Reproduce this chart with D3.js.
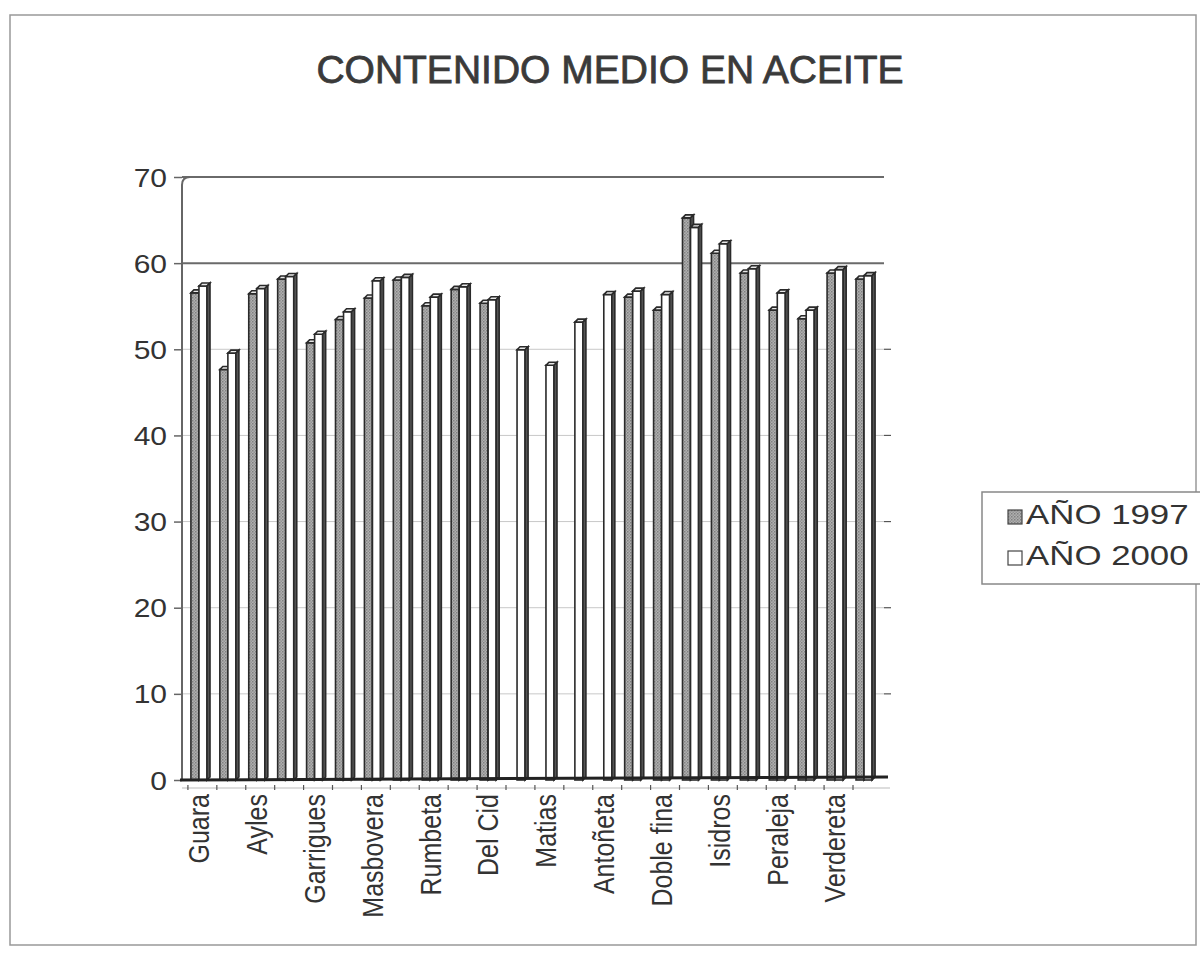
<!DOCTYPE html>
<html>
<head>
<meta charset="utf-8">
<script src="https://cdn.jsdelivr.net/npm/d3@7"></script>
<style>
  body { margin: 0; background: #fff; }
  text { font-family: "Liberation Sans", Arial, sans-serif; fill: #333; }
</style>
</head>
<body>
<div id="chart"></div>
<script>
// Chart data
const tickLabels = ["Guara", "", "Ayles", "", "Garrigues", "", "Masbovera", "", "Rumbeta", "",
  "Del Cid", "", "Matias", "", "Antoñeta", "", "Doble fina", "", "Isidros", "", "Peraleja", "", "Verdereta", ""];
const seriesNames = ["AÑO 1997", "AÑO 2000"];
const values1997 = [56.9, 48.0, 56.8, 58.5, 51.1, 53.8, 56.3, 58.4, 55.4, 57.3, 55.7,
  null, null, null, null, 56.4, 54.9, 65.6, 61.5, 59.2, 54.9, 53.9, 59.2, 58.5];
const values2000 = [57.7, 49.9, 57.4, 58.8, 52.1, 54.7, 58.3, 58.7, 56.4, 57.6, 56.1,
  50.3, 48.5, 53.5, 56.7, 57.1, 56.7, 64.5, 62.6, 59.7, 56.9, 54.9, 59.6, 58.9];
const yTicks = [0, 10, 20, 30, 40, 50, 60, 70];

// Chart params
const svgWidth = 1200;
const svgHeight = 973;
const dx = 3, dy = 3; // fake 3D depth of each column

const svg = d3.select("#chart")
  .append("svg")
  .attr("width", svgWidth)
  .attr("height", svgHeight);

// hatched grey for the 1997 columns
const defs = svg.append("defs");
const pat = defs.append("pattern")
  .attr("id", "grey")
  .attr("width", 3).attr("height", 3)
  .attr("patternUnits", "userSpaceOnUse");
pat.append("rect").attr("width", 3).attr("height", 3).attr("fill", "#b0b0b0");
pat.append("rect").attr("width", 1.5).attr("height", 1.5).attr("fill", "#808080");
pat.append("rect").attr("x", 1.5).attr("y", 1.5).attr("width", 1.5).attr("height", 1.5).attr("fill", "#939393");

// outer frame of the scanned chart
svg.append("rect")
  .attr("x", 10).attr("y", 15)
  .attr("width", 1186).attr("height", 930)
  .attr("fill", "none")
  .attr("stroke", "#999")
  .attr("stroke-width", 1.5);

// scales
const x0 = d3.scaleBand()
  .domain(d3.range(tickLabels.length))
  .range([186, 880])
  .paddingInner(0.34)
  .paddingOuter(0.17);

const x1 = d3.scaleBand()
  .domain(seriesNames)
  .range([0, x0.bandwidth() - dx]);

const y = d3.scaleLinear()
  .domain([0, 70])
  .range([780, 177]);

const axisX = 182;
const wallRight = 884;

// gridlines on the back wall
svg.append("g").selectAll("line")
  .data(yTicks.filter(t => t > 0))
  .enter()
  .append("line")
  .attr("x1", axisX)
  .attr("x2", wallRight)
  .attr("y1", d => y(d))
  .attr("y2", d => y(d))
  .attr("stroke", d => d >= 60 ? "#6a6a6a" : "#c8c8c8")
  .attr("stroke-width", d => d >= 60 ? 2 : 1);

// small marks on the right edge of the wall
svg.append("g").selectAll("line")
  .data(yTicks.filter(t => t > 0 && t < 60))
  .enter()
  .append("line")
  .attr("x1", wallRight)
  .attr("x2", wallRight + 7)
  .attr("y1", d => y(d))
  .attr("y2", d => y(d))
  .attr("stroke", "#555")
  .attr("stroke-width", 1.2);

// y axis
const leftAxis = d3.axisLeft(y).tickValues(yTicks).tickSize(8).tickPadding(0);
const yAxis = svg.append("g")
  .attr("transform", `translate(${axisX},0)`)
  .call(leftAxis);
yAxis.select(".domain").remove();
yAxis.selectAll(".tick line").attr("stroke", "#666").attr("stroke-width", 1.5);
yAxis.selectAll(".tick text")
  .attr("x", 0)
  .attr("dy", "0.36em")
  .attr("transform", "translate(-15,0) scale(1.2,1)")
  .style("font-size", "25px")
  .style("fill", "#333");

// left wall edge with rounded corner into the top of the wall
svg.append("path")
  .attr("d", `M${axisX},${y(0)} L${axisX},${y(70) + 8} Q${axisX},${y(70)} ${axisX + 8},${y(70)}`)
  .attr("fill", "none")
  .attr("stroke", "#666")
  .attr("stroke-width", 2);

// columns
const bars = [];
tickLabels.forEach((lab, i) => {
  [values1997[i], values2000[i]].forEach((v, k) => {
    if (v !== null) bars.push({ i: i, s: seriesNames[k], v: v });
  });
});

const fw = x1.bandwidth();
const base = y(0);
const barG = svg.append("g").selectAll("g")
  .data(bars)
  .enter()
  .append("g");

barG.append("rect")
  .attr("x", d => x0(d.i) + x1(d.s))
  .attr("y", d => y(d.v) + dy)
  .attr("width", fw)
  .attr("height", d => base - y(d.v) - dy)
  .attr("fill", d => d.s === seriesNames[0] ? "url(#grey)" : "#fff")
  .attr("stroke", "#2a2a2a")
  .attr("stroke-width", 1.6);

barG.append("path")
  .attr("d", d => {
    const bx = x0(d.i) + x1(d.s), t = y(d.v);
    return `M${bx},${t + dy} L${bx + dx},${t} L${bx + fw + dx},${t} L${bx + fw},${t + dy} Z`;
  })
  .attr("fill", "#e8e8e8")
  .attr("stroke", "#2a2a2a")
  .attr("stroke-width", 1.6);

barG.append("path")
  .attr("d", d => {
    const bx = x0(d.i) + x1(d.s) + fw, t = y(d.v);
    return `M${bx},${t + dy} L${bx + dx},${t} L${bx + dx},${base - dy} L${bx},${base} Z`;
  })
  .attr("fill", "#555")
  .attr("stroke", "#2a2a2a")
  .attr("stroke-width", 1.6);

// floor line
svg.append("line")
  .attr("x1", axisX - 2)
  .attr("x2", wallRight + 4)
  .attr("y1", base)
  .attr("y2", base - 3)
  .attr("stroke", "#222")
  .attr("stroke-width", 3);

// front edge of the floor with ticks between categories
svg.append("line")
  .attr("x1", axisX)
  .attr("x2", wallRight + 6)
  .attr("y1", base + 8)
  .attr("y2", base + 8)
  .attr("stroke", "#bbb")
  .attr("stroke-width", 1);

svg.append("g").selectAll("line")
  .data(d3.range(tickLabels.length))
  .enter()
  .append("line")
  .attr("x1", d => x0(d) - 3)
  .attr("x2", d => x0(d) - 3)
  .attr("y1", base + 5)
  .attr("y2", base + 10)
  .attr("stroke", "#555")
  .attr("stroke-width", 1.2);

// category labels, rotated
svg.append("g").selectAll("text")
  .data(d3.range(tickLabels.length).filter(i => tickLabels[i] !== ""))
  .enter()
  .append("text")
  .attr("transform", d => `translate(${x0(d) + x0.bandwidth() / 2 - 2},${base + 14}) scale(1.2,1) rotate(-90)`)
  .attr("dy", "0.36em")
  .attr("text-anchor", "end")
  .style("font-size", "25px")
  .text(d => tickLabels[d]);

// title
svg.append("text")
  .attr("x", 610)
  .attr("y", 83)
  .attr("text-anchor", "middle")
  .style("font-size", "39px")
  .style("fill", "#3a3a3a")
  .style("stroke", "#3a3a3a")
  .style("stroke-width", 0.8)
  .text("CONTENIDO MEDIO EN ACEITE");

// legend
const legend = svg.append("g");
legend.append("rect")
  .attr("x", 982).attr("y", 492)
  .attr("width", 240).attr("height", 92)
  .attr("fill", "#fff")
  .attr("stroke", "#888")
  .attr("stroke-width", 1.5);

seriesNames.forEach((name, k) => {
  const ly = 524 + k * 41;
  legend.append("rect")
    .attr("x", 1008).attr("y", ly - 14)
    .attr("width", 14).attr("height", 14)
    .attr("fill", k === 0 ? "url(#grey)" : "#fff")
    .attr("stroke", "#444")
    .attr("stroke-width", 1.2);
  legend.append("text")
    .attr("transform", `translate(1026,${ly}) scale(1.29,1)`)
    .style("font-size", "27px")
    .text(name);
});
</script>
</body>
</html>
